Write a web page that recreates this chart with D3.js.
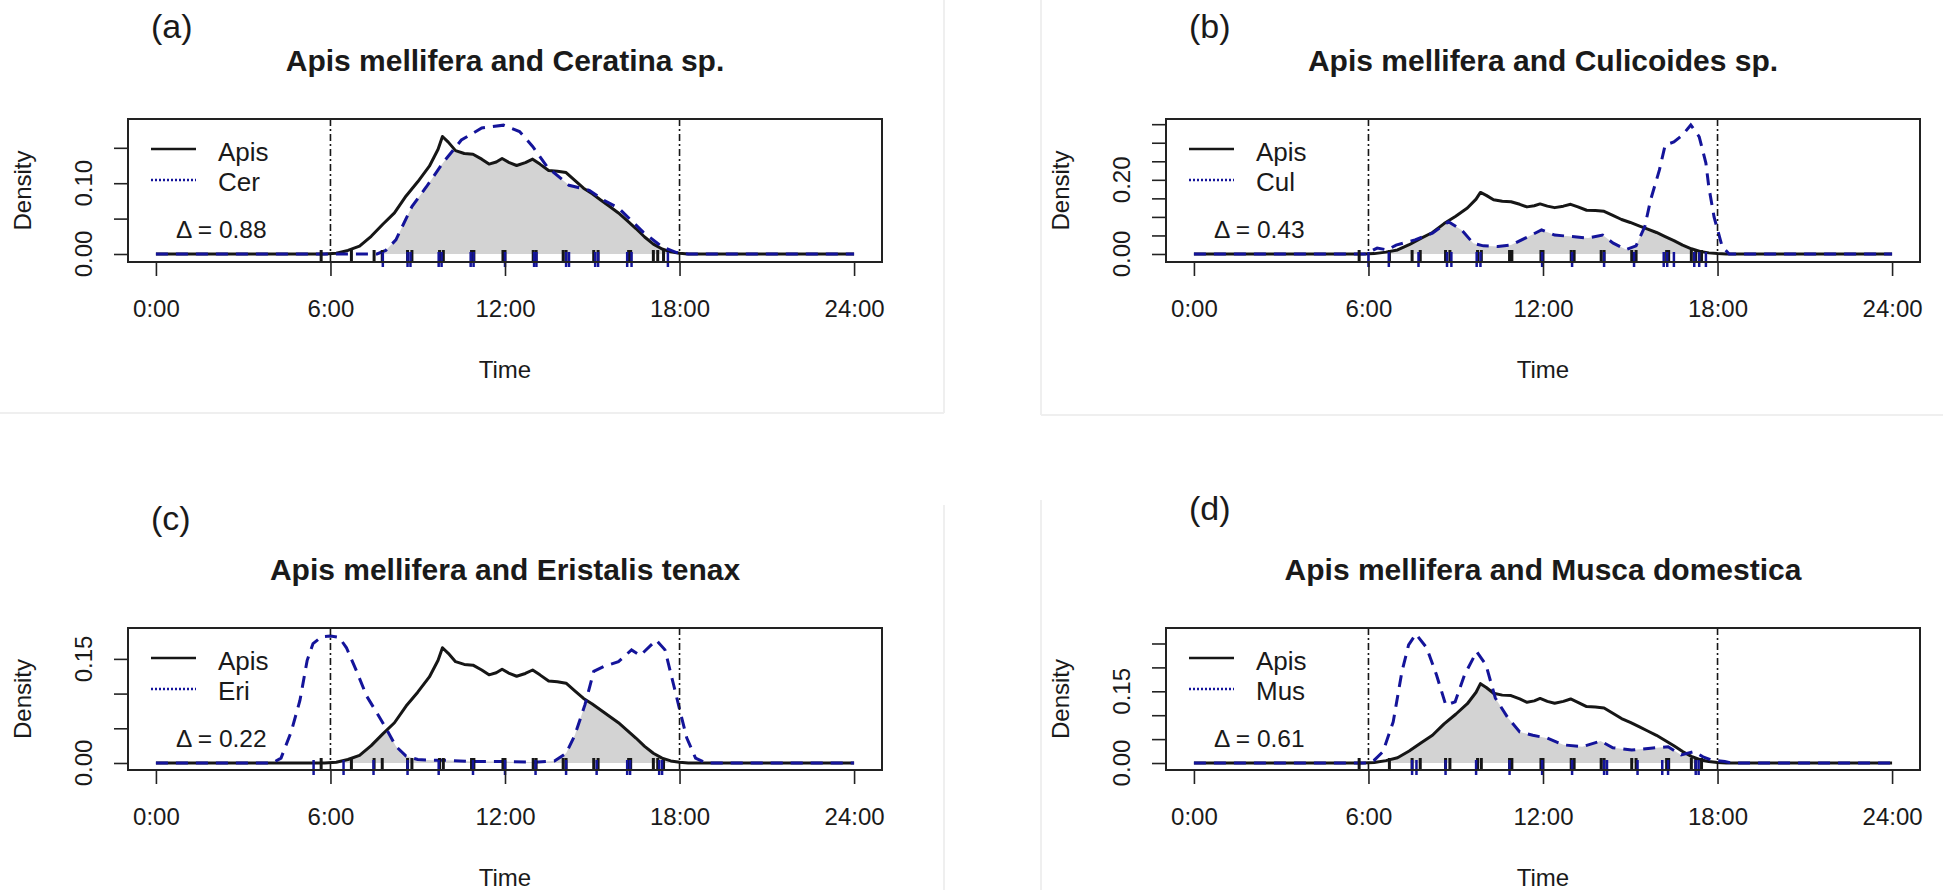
<!DOCTYPE html>
<html>
<head>
<meta charset="utf-8">
<script src="https://cdn.jsdelivr.net/npm/d3@7/dist/d3.min.js"></script>
<style>
  body { margin: 0; background: #fff; }
  text { font-family: "Liberation Sans", Arial, sans-serif; fill: #1a1a1a; }
</style>
</head>
<body>
<div id="chart"></div>
<script>
// Apis mellifera activity density (same curve in all four panels)
var apisTime = [0, 5.8, 6.2, 6.6, 7.0, 7.4, 7.8, 8.2, 8.6, 9.0, 9.4, 9.7, 9.85, 10.05, 10.3, 10.6, 10.9, 11.2, 11.45, 11.7,
    11.9, 12.15, 12.4, 12.7, 12.95, 13.2, 13.5, 13.8, 14.1, 14.4, 14.7, 15.0, 15.3, 15.6, 15.9, 16.2, 16.5, 16.8, 17.1, 17.4,
    17.7, 18.0, 18.3, 24];
var apisDensity = [0, 0, 0.001, 0.005, 0.011, 0.025, 0.042, 0.058, 0.082, 0.102, 0.124, 0.148, 0.166, 0.158, 0.146, 0.142, 0.141, 0.134, 0.127, 0.130,
    0.135, 0.129, 0.125, 0.129, 0.134, 0.127, 0.118, 0.117, 0.115, 0.104, 0.093, 0.085, 0.076, 0.067, 0.058, 0.047, 0.036, 0.024, 0.014, 0.007,
    0.003, 0.001, 0, 0];
var apisRug = [5.68, 6.72, 7.5, 7.78, 8.65, 8.8, 9.75, 9.88, 10.85, 10.93, 11.93, 12.0, 12.97, 13.07, 14.0, 14.1, 15.05, 15.2, 16.25, 16.32, 17.1, 17.25, 17.45];

// the second species of each panel
var cerTime = [0, 7.6, 7.9, 8.25, 8.8, 9.3, 9.85, 10.5, 11.2, 11.95, 12.5, 12.95, 13.45, 14.2, 14.9, 15.4, 15.9, 16.75, 17.4, 17.9, 18.3, 24];
var cerDensity = [0, 0, 0.005, 0.02, 0.067, 0.095, 0.128, 0.161, 0.178, 0.182, 0.173, 0.152, 0.123, 0.097, 0.090, 0.076, 0.065, 0.031, 0.010, 0.002, 0, 0];
var cerRug = [7.8, 8.65, 8.75, 9.72, 9.82, 10.82, 10.92, 12.0, 13.0, 13.08, 14.1, 14.2, 15.1, 15.2, 16.2, 16.35, 17.6];

var culTime = [0, 5.9, 6.3, 6.65, 6.95, 7.6, 8.2, 8.75, 9.2, 9.6, 9.95, 10.45, 10.9, 11.45, 11.95, 12.4, 13.0, 13.55, 14.05, 14.4,
    14.85, 15.2, 15.5, 15.7, 16.0, 16.2, 16.5, 16.8, 17.08, 17.37, 17.6, 17.7, 17.88, 18.16, 18.4, 24];
var culDensity = [0, 0, 0.016, 0.011, 0.024, 0.038, 0.056, 0.087, 0.065, 0.029, 0.022, 0.020, 0.024, 0.045, 0.065, 0.051, 0.047, 0.043, 0.051, 0.03,
    0.012, 0.022, 0.074, 0.146, 0.226, 0.294, 0.302, 0.321, 0.348, 0.316, 0.245, 0.181, 0.10, 0.02, 0, 0];
var culRug = [6.0, 6.7, 7.72, 8.7, 8.85, 9.72, 9.85, 11.97, 13.0, 14.1, 15.13, 16.15, 16.27, 16.5, 17.2, 17.37, 17.6];

var eriTime = [0, 4.0, 4.3, 4.65, 4.95, 5.2, 5.4, 5.7, 6.0, 6.3, 6.55, 6.9, 7.25, 7.6, 7.95, 8.25, 8.6, 9.0, 9.5, 10.0,
    10.8, 12.0, 13.0, 13.7, 14.1, 14.4, 14.75, 15.05, 15.4, 15.9, 16.35, 16.65, 17.2, 17.5, 17.8, 18.05, 18.25, 18.55, 18.9, 24];
var eriDensity = [0, 0, 0.007, 0.045, 0.09, 0.148, 0.172, 0.182, 0.183, 0.181, 0.166, 0.132, 0.096, 0.072, 0.047, 0.024, 0.01, 0.005, 0.004, 0.004,
    0.002, 0.002, 0.001, 0.003, 0.014, 0.04, 0.084, 0.132, 0.139, 0.146, 0.163, 0.155, 0.177, 0.163, 0.112, 0.069, 0.036, 0.007, 0, 0];
var eriRug = [5.42, 6.45, 7.48, 8.65, 9.72, 10.9, 12.0, 13.05, 14.1, 15.15, 16.2, 16.3, 17.3, 17.4];

var musTime = [0, 6.0, 6.2, 6.5, 6.85, 7.15, 7.38, 7.63, 8.0, 8.34, 8.66, 8.98, 9.3, 9.72, 10.04, 10.36, 10.8, 11.2, 11.65, 12.15,
    12.7, 13.35, 13.98, 14.4, 15.05, 15.7, 16.3, 16.75, 17.2, 17.5, 17.8, 18.25, 18.5, 24];
var musDensity = [0, 0, 0.006, 0.024, 0.086, 0.191, 0.247, 0.270, 0.241, 0.184, 0.121, 0.128, 0.184, 0.233, 0.205, 0.136, 0.094, 0.065, 0.058, 0.052,
    0.038, 0.034, 0.046, 0.032, 0.027, 0.031, 0.034, 0.017, 0.024, 0.013, 0.006, 0.003, 0, 0];
var musRug = [7.5, 7.65, 8.65, 9.7, 10.85, 11.97, 13.0, 14.1, 14.2, 15.25, 16.1, 16.3, 17.25, 17.35];

// panel texts
var panelTags = ["(a)", "(b)", "(c)", "(d)"];
var panelTitles = ["Apis mellifera and Ceratina sp.", "Apis mellifera and Culicoides sp.",
    "Apis mellifera and Eristalis tenax", "Apis mellifera and Musca domestica"];
var speciesCodes = ["Cer", "Cul", "Eri", "Mus"];
var overlapDelta = ["0.88", "0.43", "0.22", "0.61"];

// y axes
var yTickValues = [
    [0, 0.05, 0.10, 0.15],
    [0, 0.05, 0.10, 0.15, 0.20, 0.25, 0.30, 0.35],
    [0, 0.05, 0.10, 0.15],
    [0, 0.05, 0.10, 0.15, 0.20, 0.25]
];
var yTickLabels = [
    ["0.00", "", "0.10", ""],
    ["0.00", "", "", "", "0.20", "", "", ""],
    ["0.00", "", "", "0.15"],
    ["0.00", "", "", "0.15", "", ""]
];
var yLimits = [[-0.0113, 0.1907], [-0.0216, 0.364], [-0.0101, 0.1945], [-0.0146, 0.2824]];

// x axis
var xTickValues = [0, 6, 12, 18, 24];
var xTickLabels = ["0:00", "6:00", "12:00", "18:00", "24:00"];
var xLimits = [-0.96, 24.96];
var sunTimes = [6, 18];

var otherTime = [cerTime, culTime, eriTime, musTime];
var otherDensity = [cerDensity, culDensity, eriDensity, musDensity];
var otherRug = [cerRug, culRug, eriRug, musRug];

// layout
var WIDTH = 1943, HEIGHT = 890;
var boxLeft = [128, 1166, 128, 1166];
var boxTop = [119, 119, 628, 628];
var boxHeight = [143, 143, 142, 142];
var boxWidth = 754;
var tagBaseline = [38, 38, 530, 520];

var BLUE = "#14149a", INK = "#161616";

var svg = d3.select("#chart").append("svg")
    .attr("width", WIDTH)
    .attr("height", HEIGHT);

// faint edges of the pasted panels
var edges = [[944, 0, 944, 413], [0, 413, 944, 413], [1041, 0, 1041, 415], [1041, 415, 1943, 415],
    [944, 505, 944, 890], [1041, 500, 1041, 890]];
svg.selectAll("line.edge").data(edges).enter().append("line")
    .attr("class", "edge")
    .attr("x1", function (d) { return d[0]; }).attr("y1", function (d) { return d[1]; })
    .attr("x2", function (d) { return d[2]; }).attr("y2", function (d) { return d[3]; })
    .attr("stroke", "#efefef").attr("stroke-width", 2);

panelTags.forEach(function (tag, p) {
    var W = boxWidth, H = boxHeight[p];
    var g = svg.append("g").attr("transform", "translate(" + boxLeft[p] + "," + boxTop[p] + ")");

    var x = d3.scaleLinear().domain(xLimits).range([0, W]);
    var y = d3.scaleLinear().domain(yLimits[p]).range([H, 0]);

    var apis = apisTime.map(function (t, i) { return [t, apisDensity[i]]; });
    var other = otherTime[p].map(function (t, i) { return [t, otherDensity[p][i]]; });

    var area = d3.area()
        .x(function (d) { return x(d[0]); })
        .y0(y(0))
        .y1(function (d) { return y(d[1]); });
    var line = d3.line()
        .x(function (d) { return x(d[0]); })
        .y(function (d) { return y(d[1]); });

    // overlap = area under Apis clipped by area under the other species
    var clipId = "clip-other-" + p;
    g.append("clipPath").attr("id", clipId)
        .append("path").attr("d", area(other));
    g.append("path")
        .attr("d", area(apis))
        .attr("fill", "#d3d3d3")
        .attr("clip-path", "url(#" + clipId + ")");

    g.append("path")
        .attr("d", line(apis))
        .attr("fill", "none")
        .attr("stroke", INK)
        .attr("stroke-width", 3)
        .attr("stroke-linejoin", "round");

    g.append("path")
        .attr("d", line(other))
        .attr("fill", "none")
        .attr("stroke", BLUE)
        .attr("stroke-width", 3)
        .attr("stroke-dasharray", "12,8");

    // sunrise / sunset
    g.selectAll("line.sun").data(sunTimes).enter().append("line")
        .attr("class", "sun")
        .attr("x1", function (d) { return x(d); }).attr("x2", function (d) { return x(d); })
        .attr("y1", 0).attr("y2", H)
        .attr("stroke", INK).attr("stroke-width", 1.6)
        .attr("stroke-dasharray", "7,3,2,3");

    // rugs
    g.selectAll("line.rugA").data(apisRug).enter().append("line")
        .attr("class", "rugA")
        .attr("x1", function (d) { return x(d); }).attr("x2", function (d) { return x(d); })
        .attr("y1", H - 12).attr("y2", H)
        .attr("stroke", INK).attr("stroke-width", 3);
    g.selectAll("line.rugB").data(otherRug[p]).enter().append("line")
        .attr("class", "rugB")
        .attr("x1", function (d) { return x(d); }).attr("x2", function (d) { return x(d); })
        .attr("y1", H - 10).attr("y2", H + 5)
        .attr("stroke", BLUE).attr("stroke-width", 2.5);

    // box
    g.append("rect")
        .attr("width", W).attr("height", H)
        .attr("fill", "none").attr("stroke", "#222").attr("stroke-width", 2);

    // x axis
    var xAxis = g.append("g")
        .attr("transform", "translate(0," + H + ")")
        .call(d3.axisBottom(x).tickValues(xTickValues)
            .tickFormat(function (d, i) { return xTickLabels[i]; })
            .tickSize(14).tickPadding(24));
    xAxis.select(".domain").remove();
    xAxis.selectAll(".tick line").attr("stroke", "#222").attr("stroke-width", 1.6);
    xAxis.selectAll("text").attr("font-size", "24px").attr("fill", "#1a1a1a")
        .style("font-family", "'Liberation Sans', Arial, sans-serif");

    // y axis
    var yAxis = g.append("g")
        .call(d3.axisLeft(y).tickValues(yTickValues[p]).tickFormat("").tickSize(14));
    yAxis.select(".domain").remove();
    yAxis.selectAll(".tick line").attr("stroke", "#222").attr("stroke-width", 1.6);
    g.selectAll("text.ylab").data(yTickValues[p]).enter().append("text")
        .attr("class", "ylab")
        .attr("transform", function (d) { return "translate(-36," + y(d) + ") rotate(-90)"; })
        .attr("text-anchor", "middle")
        .attr("font-size", "24px")
        .text(function (d, i) { return yTickLabels[p][i]; });

    g.append("text")
        .attr("transform", "translate(-97," + (H / 2) + ") rotate(-90)")
        .attr("text-anchor", "middle")
        .attr("font-size", "24px")
        .text("Density");

    g.append("text")
        .attr("x", W / 2).attr("y", H + 116)
        .attr("text-anchor", "middle")
        .attr("font-size", "24px")
        .text("Time");

    // titles
    g.append("text")
        .attr("x", W / 2).attr("y", -48)
        .attr("text-anchor", "middle")
        .attr("font-size", "30px")
        .attr("font-weight", "bold")
        .text(panelTitles[p]);

    svg.append("text")
        .attr("x", boxLeft[p] + 23).attr("y", tagBaseline[p])
        .attr("font-size", "34px")
        .text(tag);

    // legend
    var legend = g.append("g");
    legend.append("line")
        .attr("x1", 23).attr("x2", 68).attr("y1", 30).attr("y2", 30)
        .attr("stroke", INK).attr("stroke-width", 2.5);
    legend.append("line")
        .attr("x1", 23).attr("x2", 68).attr("y1", 61).attr("y2", 61)
        .attr("stroke", BLUE).attr("stroke-width", 2.5).attr("stroke-dasharray", "2,2");
    legend.append("text").attr("x", 90).attr("y", 42).attr("font-size", "26px").text("Apis");
    legend.append("text").attr("x", 90).attr("y", 72).attr("font-size", "26px").text(speciesCodes[p]);

    g.append("text")
        .attr("x", 48).attr("y", y(0) - 16)
        .attr("font-size", "24.5px")
        .text("\u0394 = " + overlapDelta[p]);
});
</script>
</body>
</html>
